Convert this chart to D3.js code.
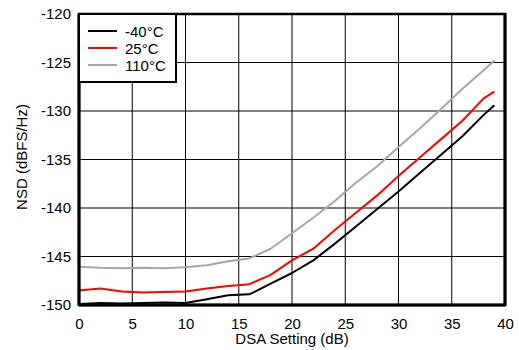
<!DOCTYPE html>
<html><head><meta charset="utf-8">
<script src="https://cdn.jsdelivr.net/npm/d3@7"></script>
<style>body{margin:0;background:#fff}svg{display:block}</style>
</head><body>
<svg id="c" width="519" height="350"></svg>
<script>
const dsa = [0,2,4,6,8,10,12,14,16,18,20,22,24,26,28,30,32,34,36,38,39];
const nsdM40 = [-149.9,-149.8,-149.85,-149.8,-149.75,-149.8,-149.4,-149.0,-148.9,-147.8,-146.7,-145.4,-143.7,-141.9,-140.1,-138.3,-136.4,-134.5,-132.6,-130.4,-129.4];
const nsd25 = [-148.5,-148.3,-148.6,-148.7,-148.65,-148.6,-148.3,-148.05,-147.85,-146.9,-145.4,-144.2,-142.3,-140.5,-138.7,-136.7,-134.8,-132.9,-131.0,-128.7,-128.0];
const nsd110 = [-146.05,-146.15,-146.2,-146.15,-146.2,-146.1,-145.9,-145.5,-145.2,-144.2,-142.6,-141.0,-139.3,-137.4,-135.7,-133.7,-131.8,-129.8,-127.7,-125.8,-124.8];
const seriesNames = ["-40°C","25°C","110°C"];
const seriesColors = ["#000000","#ff0000","#a6a6a6"];
const xTicks = [0,5,10,15,20,25,30,35,40];
const yTicks = [-150,-145,-140,-135,-130,-125,-120];

const svg = d3.select("#c");
const L=79, R=505, T=14, B=305;
const x = d3.scaleLinear().domain([0,40]).range([L,R]);
const y = d3.scaleLinear().domain([-150,-120]).range([B,T]);
const font = "Liberation Sans, Arial, sans-serif";

// grid
svg.append("g").selectAll("line").data(xTicks).join("line")
  .attr("x1",d=>x(d)).attr("x2",d=>x(d)).attr("y1",T).attr("y2",B)
  .attr("stroke","#000").attr("stroke-width",1);
svg.append("g").selectAll("line").data(yTicks).join("line")
  .attr("y1",d=>y(d)).attr("y2",d=>y(d)).attr("x1",L).attr("x2",R)
  .attr("stroke","#000").attr("stroke-width",1);

// series
const all = [nsdM40, nsd25, nsd110];
const line = d3.line().x((d,i)=>x(dsa[i])).y(d=>y(d));
all.forEach((s,k)=>{
  svg.append("path").datum(s).attr("d",line).attr("fill","none")
    .attr("stroke",seriesColors[k]).attr("stroke-width",2).attr("stroke-linejoin","round");
});

// border
svg.append("rect").attr("x",L).attr("y",T).attr("width",R-L).attr("height",B-T)
  .attr("fill","none").attr("stroke","#000").attr("stroke-width",2.5);
svg.append("line").attr("x1",R).attr("x2",R).attr("y1",T-1).attr("y2",B+1)
  .attr("stroke","#000").attr("stroke-width",3);
svg.append("line").attr("x1",L).attr("x2",R).attr("y1",B).attr("y2",B)
  .attr("stroke","#000").attr("stroke-width",3);
svg.append("line").attr("x1",L).attr("x2",L).attr("y1",T).attr("y2",B)
  .attr("stroke","#000").attr("stroke-width",3);

// axes labels
const xa = svg.append("g").attr("transform",`translate(0,${B})`)
  .call(d3.axisBottom(x).tickValues(xTicks).tickSize(0).tickPadding(13).tickFormat(d3.format("d")));
xa.select(".domain").remove();
xa.selectAll("text").attr("font-family",font).attr("font-size",15).attr("fill","#000");
const ya = svg.append("g").attr("transform",`translate(${L},0)`)
  .call(d3.axisLeft(y).tickValues(yTicks).tickSize(0).tickPadding(8).tickFormat(d=>String(d)));
ya.select(".domain").remove();
ya.selectAll("text").attr("font-family",font).attr("font-size",15).attr("fill","#000");

svg.append("text").attr("x",(L+R)/2).attr("y",344).attr("text-anchor","middle")
  .attr("font-family",font).attr("font-size",15).text("DSA Setting (dB)");
svg.append("text").attr("transform",`translate(27,157) rotate(-90)`).attr("text-anchor","middle")
  .attr("font-family",font).attr("font-size",15).text("NSD (dBFS/Hz)");

// legend
const lg = svg.append("g");
lg.append("rect").attr("x",L).attr("y",T).attr("width",97).attr("height",68)
  .attr("fill","#fff").attr("stroke","#000").attr("stroke-width",2);
seriesNames.forEach((n,k)=>{
  const yy = 31 + k*17;
  lg.append("line").attr("x1",88).attr("x2",117).attr("y1",yy).attr("y2",yy)
    .attr("stroke",seriesColors[k]).attr("stroke-width",2);
  lg.append("text").attr("x",125).attr("y",yy+5.5).attr("font-family",font).attr("font-size",15).text(n);
});
</script>
</body></html>
